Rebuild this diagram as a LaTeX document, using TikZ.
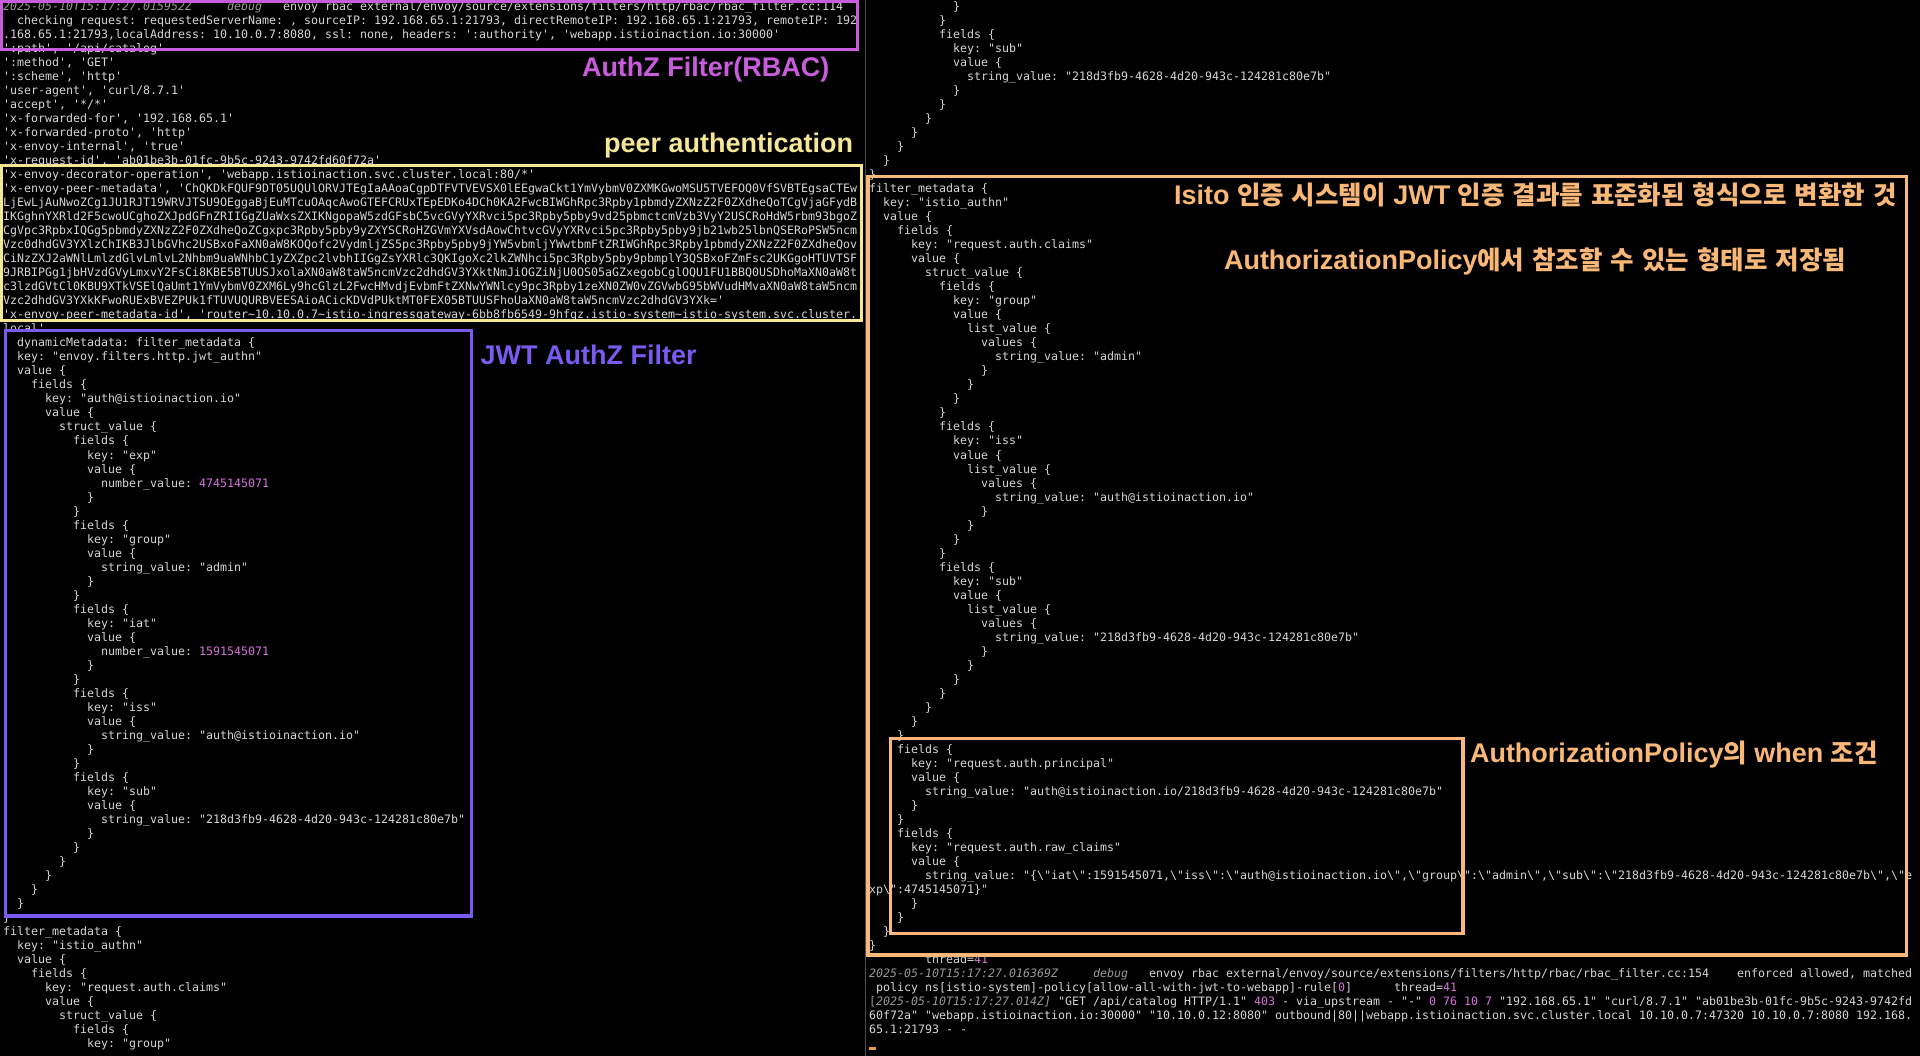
\documentclass[tikz,border=0pt]{standalone}
\usepackage{fontspec}
\setmonofont{DejaVu Sans Mono}
\newfontfamily\labfont{Liberation Sans}
\newfontfamily\krfont{Noto Sans CJK KR Bold}
\definecolor{txt}{HTML}{D6D6D6}
\definecolor{dim}{HTML}{9A9A9A}
\definecolor{pk}{HTML}{D771D9}
\definecolor{mag}{HTML}{C95CDD}
\definecolor{yel}{HTML}{F6E795}
\definecolor{pur}{HTML}{7A5AF0}
\definecolor{org}{HTML}{F9B878}
\definecolor{curs}{HTML}{E89A4A}
\definecolor{divc}{HTML}{4C4C4C}
\newcount\tn
\newcommand\LeftLn[3]{\global\advance\tn by 1
  \node[term] (t\the\tn) at ({3+7*#1},{11+14*#2}) {#3};}
\newcommand\RightLn[3]{\global\advance\tn by 1
  \node[term] (t\the\tn) at ({869+7*#1},{11+14*#2}) {#3};}
\newcommand\bs{\textbackslash}
\newcommand\tld{\textasciitilde}
\newcommand\kr{\krfont\fontsize{25.5}{30}\selectfont\fontdimen2\font=8pt\relax}
\newcommand\dimit[1]{{\color{dim}\itshape #1}}
\newcommand\pn[1]{{\color{pk}#1}}
\begin{document}
\begin{tikzpicture}[x=1pt,y=-1pt,
  term/.style={anchor=base west, inner sep=0pt, outer sep=0pt, text=txt,
    font=\ttfamily\fontsize{11.63}{14}\selectfont},
  lab/.style={anchor=base west, inner sep=0pt, outer sep=0pt,
    font=\labfont\bfseries\fontsize{27}{30}\selectfont}]
\useasboundingbox (0,0) rectangle (1920,1056);
\fill[black] (0,0) rectangle (1920,1056);
\draw[divc, line width=1pt] (865.5,0) -- (865.5,1056);
% ---------------- left panel ----------------
\LeftLn{0}{0}{\dimit{2025-05-10T15:17:27.015952Z}}
\LeftLn{32}{0}{\dimit{debug}}
\LeftLn{40}{0}{envoy rbac external/envoy/source/extensions/filters/http/rbac/rbac\_filter.cc:114}
\LeftLn{2}{1}{checking request: requestedServerName: , sourceIP: 192.168.65.1:21793, directRemoteIP: 192.168.65.1:21793, remoteIP: 192}
\LeftLn{0}{2}{.168.65.1:21793,localAddress: 10.10.0.7:8080, ssl: none, headers: ':authority', 'webapp.istioinaction.io:30000'}
\LeftLn{0}{3}{':path', '/api/catalog'}
\LeftLn{0}{4}{':method', 'GET'}
\LeftLn{0}{5}{':scheme', 'http'}
\LeftLn{0}{6}{'user-agent', 'curl/8.7.1'}
\LeftLn{0}{7}{'accept', '*/*'}
\LeftLn{0}{8}{'x-forwarded-for', '192.168.65.1'}
\LeftLn{0}{9}{'x-forwarded-proto', 'http'}
\LeftLn{0}{10}{'x-envoy-internal', 'true'}
\LeftLn{0}{11}{'x-request-id', 'ab01be3b-01fc-9b5c-9243-9742fd60f72a'}
\LeftLn{0}{12}{'x-envoy-decorator-operation', 'webapp.istioinaction.svc.cluster.local:80/*'}
\LeftLn{0}{13}{'x-envoy-peer-metadata', 'ChQKDkFQUF9DT05UQUlORVJTEgIaAAoaCgpDTFVTVEVSX0lEEgwaCkt1YmVybmV0ZXMKGwoMSU5TVEFOQ0VfSVBTEgsaCTEw}
\LeftLn{0}{14}{LjEwLjAuNwoZCg1JU1RJT19WRVJTSU9OEggaBjEuMTcuOAqcAwoGTEFCRUxTEpEDKo4DCh0KA2FwcBIWGhRpc3Rpby1pbmdyZXNzZ2F0ZXdheQoTCgVjaGFydB}
\LeftLn{0}{15}{IKGghnYXRld2F5cwoUCghoZXJpdGFnZRIIGgZUaWxsZXIKNgopaW5zdGFsbC5vcGVyYXRvci5pc3Rpby5pby9vd25pbmctcmVzb3VyY2USCRoHdW5rbm93bgoZ}
\LeftLn{0}{16}{CgVpc3RpbxIQGg5pbmdyZXNzZ2F0ZXdheQoZCgxpc3Rpby5pby9yZXYSCRoHZGVmYXVsdAowChtvcGVyYXRvci5pc3Rpby5pby9jb21wb25lbnQSERoPSW5ncm}
\LeftLn{0}{17}{Vzc0dhdGV3YXlzChIKB3JlbGVhc2USBxoFaXN0aW8KOQofc2VydmljZS5pc3Rpby5pby9jYW5vbmljYWwtbmFtZRIWGhRpc3Rpby1pbmdyZXNzZ2F0ZXdheQov}
\LeftLn{0}{18}{CiNzZXJ2aWNlLmlzdGlvLmlvL2Nhbm9uaWNhbC1yZXZpc2lvbhIIGgZsYXRlc3QKIgoXc2lkZWNhci5pc3Rpby5pby9pbmplY3QSBxoFZmFsc2UKGgoHTUVTSF}
\LeftLn{0}{19}{9JRBIPGg1jbHVzdGVyLmxvY2FsCi8KBE5BTUUSJxolaXN0aW8taW5ncmVzc2dhdGV3YXktNmJiOGZiNjU0OS05aGZxegobCglOQU1FU1BBQ0USDhoMaXN0aW8t}
\LeftLn{0}{20}{c3lzdGVtCl0KBU9XTkVSElQaUmt1YmVybmV0ZXM6Ly9hcGlzL2FwcHMvdjEvbmFtZXNwYWNlcy9pc3Rpby1zeXN0ZW0vZGVwbG95bWVudHMvaXN0aW8taW5ncm}
\LeftLn{0}{21}{Vzc2dhdGV3YXkKFwoRUExBVEZPUk1fTUVUQURBVEESAioACicKDVdPUktMT0FEX05BTUUSFhoUaXN0aW8taW5ncmVzc2dhdGV3YXk='}
\LeftLn{0}{22}{'x-envoy-peer-metadata-id', 'router\tld 10.10.0.7\tld istio-ingressgateway-6bb8fb6549-9hfqz.istio-system\tld istio-system.svc.cluster.}
\LeftLn{0}{23}{local'}
\LeftLn{2}{24}{dynamicMetadata: filter\_metadata \{}
\LeftLn{2}{25}{key: "envoy.filters.http.jwt\_authn"}
\LeftLn{2}{26}{value \{}
\LeftLn{4}{27}{fields \{}
\LeftLn{6}{28}{key: "auth@istioinaction.io"}
\LeftLn{6}{29}{value \{}
\LeftLn{8}{30}{struct\_value \{}
\LeftLn{10}{31}{fields \{}
\LeftLn{12}{32}{key: "exp"}
\LeftLn{12}{33}{value \{}
\LeftLn{14}{34}{number\_value: \pn{4745145071}}
\LeftLn{12}{35}{\}}
\LeftLn{10}{36}{\}}
\LeftLn{10}{37}{fields \{}
\LeftLn{12}{38}{key: "group"}
\LeftLn{12}{39}{value \{}
\LeftLn{14}{40}{string\_value: "admin"}
\LeftLn{12}{41}{\}}
\LeftLn{10}{42}{\}}
\LeftLn{10}{43}{fields \{}
\LeftLn{12}{44}{key: "iat"}
\LeftLn{12}{45}{value \{}
\LeftLn{14}{46}{number\_value: \pn{1591545071}}
\LeftLn{12}{47}{\}}
\LeftLn{10}{48}{\}}
\LeftLn{10}{49}{fields \{}
\LeftLn{12}{50}{key: "iss"}
\LeftLn{12}{51}{value \{}
\LeftLn{14}{52}{string\_value: "auth@istioinaction.io"}
\LeftLn{12}{53}{\}}
\LeftLn{10}{54}{\}}
\LeftLn{10}{55}{fields \{}
\LeftLn{12}{56}{key: "sub"}
\LeftLn{12}{57}{value \{}
\LeftLn{14}{58}{string\_value: "218d3fb9-4628-4d20-943c-124281c80e7b"}
\LeftLn{12}{59}{\}}
\LeftLn{10}{60}{\}}
\LeftLn{8}{61}{\}}
\LeftLn{6}{62}{\}}
\LeftLn{4}{63}{\}}
\LeftLn{2}{64}{\}}
\LeftLn{0}{65}{\}}
\LeftLn{0}{66}{filter\_metadata \{}
\LeftLn{2}{67}{key: "istio\_authn"}
\LeftLn{2}{68}{value \{}
\LeftLn{4}{69}{fields \{}
\LeftLn{6}{70}{key: "request.auth.claims"}
\LeftLn{6}{71}{value \{}
\LeftLn{8}{72}{struct\_value \{}
\LeftLn{10}{73}{fields \{}
\LeftLn{12}{74}{key: "group"}
% ---------------- right panel ----------------
\RightLn{12}{0}{\}}
\RightLn{10}{1}{\}}
\RightLn{10}{2}{fields \{}
\RightLn{12}{3}{key: "sub"}
\RightLn{12}{4}{value \{}
\RightLn{14}{5}{string\_value: "218d3fb9-4628-4d20-943c-124281c80e7b"}
\RightLn{12}{6}{\}}
\RightLn{10}{7}{\}}
\RightLn{8}{8}{\}}
\RightLn{6}{9}{\}}
\RightLn{4}{10}{\}}
\RightLn{2}{11}{\}}
\RightLn{0}{12}{\}}
\RightLn{0}{13}{filter\_metadata \{}
\RightLn{2}{14}{key: "istio\_authn"}
\RightLn{2}{15}{value \{}
\RightLn{4}{16}{fields \{}
\RightLn{6}{17}{key: "request.auth.claims"}
\RightLn{6}{18}{value \{}
\RightLn{8}{19}{struct\_value \{}
\RightLn{10}{20}{fields \{}
\RightLn{12}{21}{key: "group"}
\RightLn{12}{22}{value \{}
\RightLn{14}{23}{list\_value \{}
\RightLn{16}{24}{values \{}
\RightLn{18}{25}{string\_value: "admin"}
\RightLn{16}{26}{\}}
\RightLn{14}{27}{\}}
\RightLn{12}{28}{\}}
\RightLn{10}{29}{\}}
\RightLn{10}{30}{fields \{}
\RightLn{12}{31}{key: "iss"}
\RightLn{12}{32}{value \{}
\RightLn{14}{33}{list\_value \{}
\RightLn{16}{34}{values \{}
\RightLn{18}{35}{string\_value: "auth@istioinaction.io"}
\RightLn{16}{36}{\}}
\RightLn{14}{37}{\}}
\RightLn{12}{38}{\}}
\RightLn{10}{39}{\}}
\RightLn{10}{40}{fields \{}
\RightLn{12}{41}{key: "sub"}
\RightLn{12}{42}{value \{}
\RightLn{14}{43}{list\_value \{}
\RightLn{16}{44}{values \{}
\RightLn{18}{45}{string\_value: "218d3fb9-4628-4d20-943c-124281c80e7b"}
\RightLn{16}{46}{\}}
\RightLn{14}{47}{\}}
\RightLn{12}{48}{\}}
\RightLn{10}{49}{\}}
\RightLn{8}{50}{\}}
\RightLn{6}{51}{\}}
\RightLn{4}{52}{\}}
\RightLn{4}{53}{fields \{}
\RightLn{6}{54}{key: "request.auth.principal"}
\RightLn{6}{55}{value \{}
\RightLn{8}{56}{string\_value: "auth@istioinaction.io/218d3fb9-4628-4d20-943c-124281c80e7b"}
\RightLn{6}{57}{\}}
\RightLn{4}{58}{\}}
\RightLn{4}{59}{fields \{}
\RightLn{6}{60}{key: "request.auth.raw\_claims"}
\RightLn{6}{61}{value \{}
\RightLn{8}{62}{string\_value: "\{\bs"iat\bs":1591545071,\bs"iss\bs":\bs"auth@istioinaction.io\bs",\bs"group\bs":\bs"admin\bs",\bs"sub\bs":\bs"218d3fb9-4628-4d20-943c-124281c80e7b\bs",\bs"e}
\RightLn{0}{63}{xp\bs":4745145071\}"}
\RightLn{6}{64}{\}}
\RightLn{4}{65}{\}}
\RightLn{2}{66}{\}}
\RightLn{0}{67}{\}}
\RightLn{8}{68}{thread=\pn{41}}
\RightLn{0}{69}{\dimit{2025-05-10T15:17:27.016369Z}}
\RightLn{32}{69}{\dimit{debug}}
\RightLn{40}{69}{envoy rbac external/envoy/source/extensions/filters/http/rbac/rbac\_filter.cc:154}
\RightLn{124}{69}{enforced allowed, matched}
\RightLn{1}{70}{policy ns[istio-system]-policy[allow-all-with-jwt-to-webapp]-rule[\pn{0}]}
\RightLn{75}{70}{thread=\pn{41}}
\RightLn{0}{71}{{\color{dim}[\itshape 2025-05-10T15:17:27.014Z]} "GET /api/catalog HTTP/1.1" \pn{403} - via\_upstream - "-" \pn{0 76 10 7} "192.168.65.1" "curl/8.7.1" "ab01be3b-01fc-9b5c-9243-9742fd}
\RightLn{0}{72}{60f72a" "webapp.istioinaction.io:30000" "10.10.0.12:8080" outbound|80||webapp.istioinaction.svc.cluster.local 10.10.0.7:47320 10.10.0.7:8080 192.168.}
\RightLn{0}{73}{65.1:21793 - -}
\fill[curs] (869,1046.5) rectangle (876,1049.5);
% ---------------- boxes ----------------
\draw[mag, line width=3pt] (1.5,1.5) rectangle (857,49.5);
\draw[yel, line width=3pt] (1.5,166) rectangle (861.3,321);
\draw[pur, line width=3.2pt] (5.5,330.5) rectangle (471.3,916);
\draw[org, line width=3.5pt] (868,176.7) rectangle (1906.6,955);
\draw[org, line width=3.5pt] (890.4,738.3) rectangle (1463,933.3);
% ---------------- labels ----------------
\node[lab, text=mag] (authz) at (582,77) {AuthZ Filter(RBAC)};
\node[lab, text=yel] (peer) at (604,152.7) {peer authentication};
\node[lab, text=pur] (jwt) at (480.7,364.3) {JWT AuthZ Filter};
\node[lab, text=org] (kone) at (1174,205) {Isito {\kr 인증 시스템이} JWT {\kr 인증 결과를 표준화된 형식으로 변환한 것}};
\node[lab, text=org] (ktwo) at (1224,270) {AuthorizationPolicy{\kr 에서 참조할 수 있는 형태로 저장됨}};
\node[lab, text=org] (kthree) at (1470,762.5) {AuthorizationPolicy{\kr 의} when {\kr 조건}};
\end{tikzpicture}
\end{document}
